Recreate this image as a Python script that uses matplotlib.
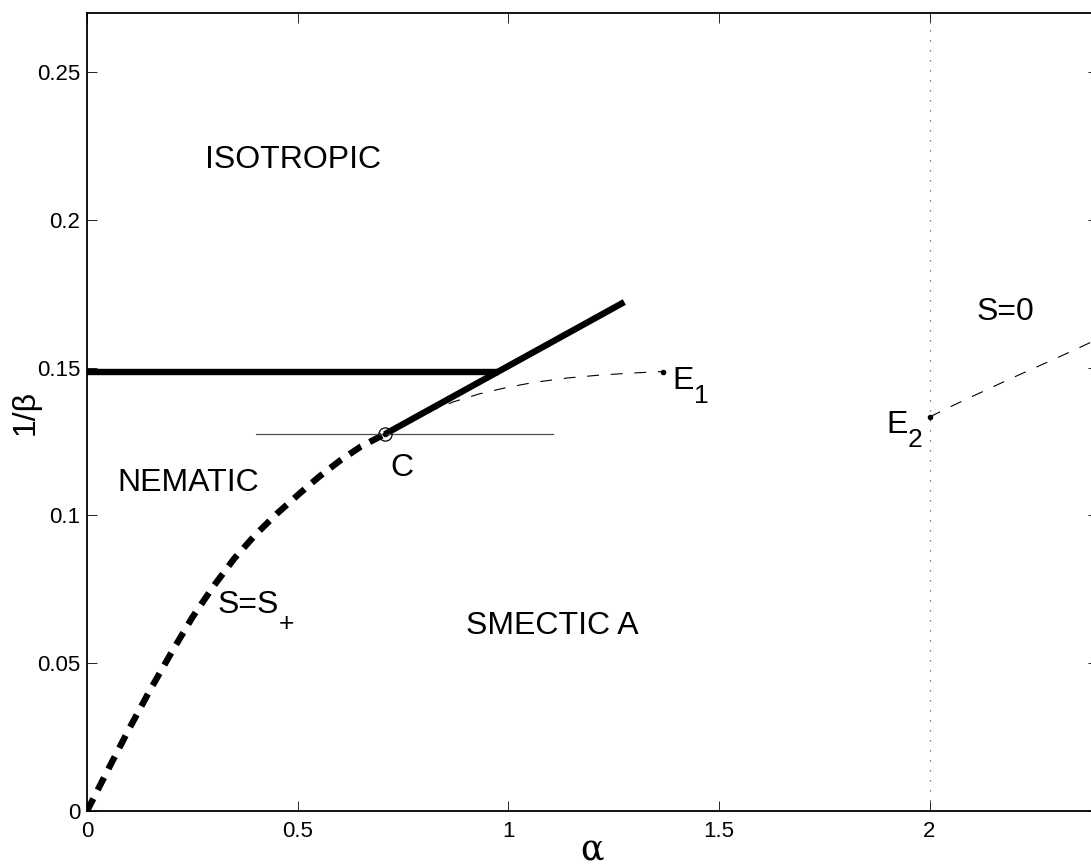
import matplotlib
matplotlib.use("Agg")
import matplotlib.pyplot as plt

plt.rcParams['font.family'] = ['Liberation Sans', 'DejaVu Sans']
plt.rcParams['lines.scale_dashes'] = False

# ---- data ----
s_plus_alpha = [0.0, 0.05, 0.10, 0.15, 0.20, 0.25, 0.30, 0.35, 0.40, 0.45, 0.506, 0.55, 0.60, 0.65, 0.707]
s_plus_invbeta = [0.0, 0.014, 0.0278, 0.041, 0.0535, 0.0655, 0.076, 0.0855, 0.0935, 0.1005, 0.1076, 0.113, 0.1185, 0.1233, 0.1275]

e1_alpha = [0.707, 0.822, 0.869, 0.933, 0.997, 1.06, 1.14, 1.218, 1.297, 1.368]
e1_invbeta = [0.1275, 0.1357, 0.1384, 0.1412, 0.1433, 0.1450, 0.1465, 0.1475, 0.1482, 0.1487]

nem_smec_alpha = [0.707, 1.2755]
nem_smec_invbeta = [0.1275, 0.1722]

iso_nem_alpha = [0.0, 0.979]
iso_nem_invbeta = [0.1487, 0.1487]

tangent_alpha = [0.40, 1.107]
tangent_invbeta = [0.1275, 0.1275]

e2_alpha = [2.0, 2.066, 2.185, 2.318, 2.4]
e2_invbeta = [0.1333, 0.1379, 0.1458, 0.1543, 0.1597]

vline_alpha = [2.0, 2.0]
vline_invbeta = [0.0, 0.27]

point_c = (0.707, 0.1275)
point_e1 = (1.368, 0.1487)
point_e2 = (2.0, 0.1333)

xticks = [0, 0.5, 1, 1.5, 2]
xticklabels = ['0', '0.5', '1', '1.5', '2']
yticks = [0, 0.05, 0.1, 0.15, 0.2, 0.25]
yticklabels = ['0', '0.05', '0.1', '0.15', '0.2', '0.25']

# ---- figure ----
fig = plt.figure(figsize=(10.91, 8.68), dpi=100)
ax = fig.add_axes([87/1091, 57/868, (1098-87)/1091, (811-13)/868])
ax.set_xlim(0, 2.4)
ax.set_ylim(0, 0.27)

ax.plot(vline_alpha, vline_invbeta, color='0.35', lw=0.9, dashes=(0.9, 6.3))
ax.plot(iso_nem_alpha, iso_nem_invbeta, color='black', lw=4.6, solid_capstyle='butt')
ax.plot(nem_smec_alpha, nem_smec_invbeta, color='black', lw=4.6, solid_capstyle='butt')
ax.plot(s_plus_alpha, s_plus_invbeta, color='black', lw=4.6, dashes=(10, 7), dash_capstyle='butt')
ax.plot(e1_alpha, e1_invbeta, color='black', lw=0.8, dashes=(8.5, 8.5))
ax.plot(tangent_alpha, tangent_invbeta, color='0.3', lw=0.9)
ax.plot(e2_alpha, e2_invbeta, color='black', lw=0.8, dashes=(8.5, 8.5))

ax.plot([point_c[0]], [point_c[1]], marker='o', ms=9.5, mfc='none', mec='black', mew=0.9, ls='none')
ax.plot([point_c[0]], [point_c[1]], marker='o', ms=3, color='black', ls='none')
ax.plot([point_e1[0]], [point_e1[1]], marker='o', ms=3, color='black', ls='none')
ax.plot([point_e2[0]], [point_e2[1]], marker='o', ms=3, color='black', ls='none')

fs = 23
sfs = 19


def label_with_sub(x, y, main, sub, dy=0.0):
    t = ax.text(x, y, main, fontsize=fs, ha='left', va='center')
    ax.annotate(sub, xy=(1.0, 0.0), xycoords=t, xytext=(0, dy),
                textcoords='offset points', fontsize=sfs, ha='left', va='center')
    return t


ax.text(0.28, 0.2202, 'ISOTROPIC', fontsize=fs, ha='left', va='center')
ax.text(0.071, 0.111, 'NEMATIC', fontsize=fs, ha='left', va='center')
ax.text(0.90, 0.0626, 'SMECTIC A', fontsize=fs, ha='left', va='center')
ax.text(0.72, 0.116, 'C', fontsize=fs, ha='left', va='center')
label_with_sub(1.39, 0.1455, 'E', '1', dy=0)
label_with_sub(0.309, 0.0697, 'S=S', '+', dy=-3)
ax.text(2.112, 0.169, 'S=0', fontsize=fs, ha='left', va='center')
label_with_sub(1.898, 0.1305, 'E', '2', dy=0)

ax.set_xticks(xticks)
ax.set_xticklabels(xticklabels)
ax.set_yticks(yticks)
ax.set_yticklabels(yticklabels)
ax.tick_params(direction='in', length=7, width=0.6, labelsize=16, top=True, right=True)
ax.tick_params(axis='x', pad=7)
ax.tick_params(axis='y', pad=5)
for sp in ax.spines.values():
    sp.set_linewidth(1.3)

fig.text(592/1091, 0.001, 'α', fontsize=25, ha='center', va='bottom', family=['DejaVu Serif'])
ax.set_ylabel('1/β', fontsize=23, labelpad=-3)

fig.savefig('out.png', dpi=100)
